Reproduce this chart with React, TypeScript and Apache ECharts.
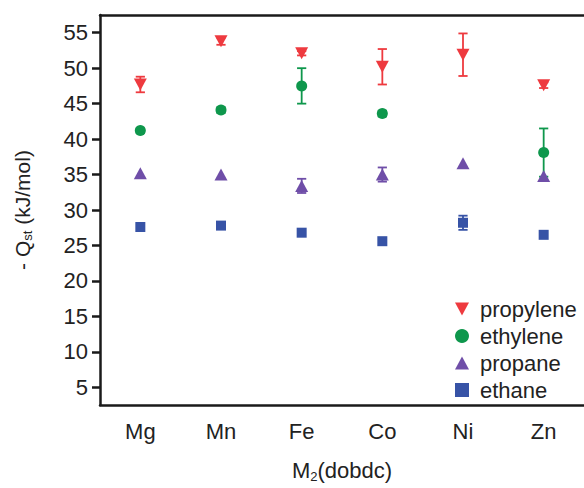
import React, { useEffect, useRef } from "react";
import * as echarts from "echarts";

const categories = ["Mg", "Mn", "Fe", "Co", "Ni", "Zn"];
const yTicks = [5, 10, 15, 20, 25, 30, 35, 40, 45, 50, 55];

const propylene = [47.7, 53.8, 52.1, 50.2, 51.9, 47.6];
const propyleneErr = [1.1, 0.5, 0.3, 2.5, 3.0, 0.4];
const ethylene: (number | null)[] = [41.2, 44.1, 47.5, 43.6, null, 38.1];
const ethyleneErr = [0.3, 0.4, 2.5, 0.4, 0, 3.4];
const propane = [35.2, 35.0, 33.4, 35.0, 36.6, 34.8];
const propaneErr = [0.2, 0.2, 1.0, 1.0, 0.2, 0.2];
const ethane = [27.6, 27.8, 26.8, 25.6, 28.2, 26.5];
const ethaneErr = [0.2, 0.4, 0.2, 0.2, 1.0, 0.2];

const COLORS = {
  propylene: "#ee3a3f",
  ethylene: "#0e974c",
  propane: "#6f4ea8",
  ethane: "#3753a6",
};

const FONT = "Liberation Sans, Arial, sans-serif";

function errData(vals: (number | null)[], errs: number[]) {
  const out: number[][] = [];
  vals.forEach((v, i) => {
    if (v !== null && errs[i] > 0.25) out.push([i, v - errs[i], v + errs[i]]);
  });
  return out;
}

function errSeries(name: string, color: string, data: number[][]) {
  return {
    type: "custom",
    name: name + "-err",
    data,
    z: 1,
    renderItem: (params: any, api: any) => {
      const x = api.value(0);
      const hi = api.coord([x, api.value(2)]);
      const lo = api.coord([x, api.value(1)]);
      const cw = 4.6;
      const style = { stroke: color, lineWidth: 1.8 };
      return {
        type: "group",
        children: [
          { type: "line", shape: { x1: hi[0], y1: hi[1], x2: lo[0], y2: lo[1] }, style },
          { type: "line", shape: { x1: hi[0] - cw, y1: hi[1], x2: hi[0] + cw, y2: hi[1] }, style },
          { type: "line", shape: { x1: lo[0] - cw, y1: lo[1], x2: lo[0] + cw, y2: lo[1] }, style },
        ],
      };
    },
  };
}

export default function App() {
  const ref = useRef<HTMLDivElement>(null);
  useEffect(() => {
    if (!ref.current) return;
    const chart = echarts.init(ref.current, null, { renderer: "svg" });
    const labelColor = "#222";
    chart.setOption({
      animation: false,
      grid: { left: 100, top: 15, bottom: 76, right: -9, containLabel: false },
      legend: {
        data: ["propylene", "ethylene", "propane", "ethane"],
        orient: "vertical",
        left: 455,
        top: 298,
        padding: 0,
        itemWidth: 14,
        itemHeight: 14,
        itemGap: 5,
        textStyle: { fontFamily: FONT, fontSize: 22, color: labelColor, padding: [0, 0, 0, 6] },
      },
      xAxis: [
        {
          type: "category",
          data: categories,
          boundaryGap: true,
          axisLine: { lineStyle: { color: "#1a1a1a", width: 2.5 } },
          axisTick: { alignWithLabel: true, length: 8, lineStyle: { color: "#1a1a1a", width: 2.5 } },
          axisLabel: { fontFamily: FONT, fontSize: 22, color: labelColor, margin: 15 },
          name: "{a|M}{s|2}{a|(dobdc)}",
          nameLocation: "middle",
          nameGap: 52,
          nameTextStyle: {
            rich: {
              a: { fontFamily: FONT, fontSize: 22, color: labelColor },
              s: { fontFamily: FONT, fontSize: 13, color: labelColor, verticalAlign: "bottom", padding: [13, 0, 0, 0] },
            },
          },
        },
        {
          type: "category",
          data: categories,
          position: "top",
          axisLine: { show: true, lineStyle: { color: "#1a1a1a", width: 2.5 } },
          axisTick: { show: false },
          axisLabel: { show: false },
        },
      ],
      yAxis: {
        type: "value",
        min: 2.5,
        max: 57.5,
        splitLine: { show: false },
        axisLine: { show: true, lineStyle: { color: "#1a1a1a", width: 2.5 } },
        axisTick: { show: true, length: 8, customValues: yTicks, lineStyle: { color: "#1a1a1a", width: 2.5 } },
        axisLabel: { fontFamily: FONT, fontSize: 22, color: labelColor, margin: 12, customValues: yTicks },
        name: "{a|- Q}{s|st}{a| (kJ/mol)}",
        nameLocation: "middle",
        nameRotate: 90,
        nameGap: 66,
        nameTextStyle: {
          rich: {
            a: { fontFamily: FONT, fontSize: 21, color: labelColor },
            s: { fontFamily: FONT, fontSize: 13, color: labelColor, padding: [11, 0, 0, 0] },
          },
        },
      },
      series: [
        errSeries("propylene", COLORS.propylene, errData(propylene, propyleneErr)),
        errSeries("ethylene", COLORS.ethylene, errData(ethylene, ethyleneErr)),
        errSeries("propane", COLORS.propane, errData(propane, propaneErr)),
        errSeries("ethane", COLORS.ethane, errData(ethane, ethaneErr)),
        {
          type: "scatter",
          name: "propylene",
          data: propylene,
          symbol: "path://M0,0L12,0L6,11Z",
          symbolSize: [13, 12],
          itemStyle: { color: COLORS.propylene, opacity: 1 },
          z: 3,
        },
        {
          type: "scatter",
          name: "ethylene",
          data: ethylene,
          symbol: "circle",
          symbolSize: 11,
          itemStyle: { color: COLORS.ethylene, opacity: 1 },
          z: 3,
        },
        {
          type: "scatter",
          name: "propane",
          data: propane,
          symbol: "path://M6,0L12,11L0,11Z",
          symbolSize: [13, 12],
          itemStyle: { color: COLORS.propane, opacity: 1 },
          z: 3,
        },
        {
          type: "scatter",
          name: "ethane",
          data: ethane,
          symbol: "rect",
          symbolSize: 10,
          itemStyle: { color: COLORS.ethane, opacity: 1 },
          z: 3,
        },
      ],
    });
    return () => chart.dispose();
  }, []);
  return <div ref={ref} style={{ width: 584, height: 488, position: "absolute", left: 0, top: 0 }} />;
}
